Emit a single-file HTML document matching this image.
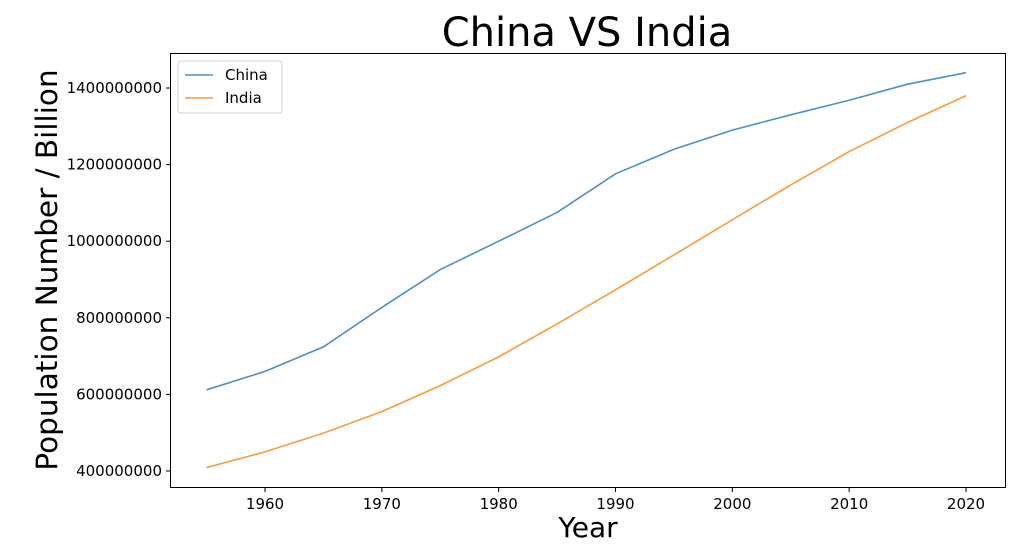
<!DOCTYPE html>
<html><head><meta charset="utf-8"><style>
body{margin:0;background:#fff;}
svg text{font-family:"DejaVu Sans","Liberation Sans",sans-serif;fill:#000;}
</style></head><body>
<svg id="chart" width="1021" height="552" xmlns="http://www.w3.org/2000/svg">
<rect width="1021" height="552" fill="#fff"/>
<text x="587" y="46" font-size="40" text-anchor="middle">China VS India</text>
<text x="588" y="537" font-size="28" text-anchor="middle">Year</text>
<text transform="translate(57,270) rotate(-90)" font-size="29.5" text-anchor="middle">Population Number / Billion</text>
<g id="ticks"></g>
<g id="lines"></g>
<rect x="170.5" y="53.5" width="835" height="434" fill="none" stroke="#000" stroke-width="1"/>
<g>
<rect x="178" y="61" width="104" height="52" rx="3" fill="#fff" stroke="#ccc" opacity="0.9"/>
<line x1="185" y1="75" x2="213" y2="75" stroke="#1f77b4" stroke-opacity="0.8" stroke-width="1.6"/>
<text x="225" y="80" font-size="15">China</text>
<line x1="185" y1="98" x2="213" y2="98" stroke="#ff7f0e" stroke-opacity="0.8" stroke-width="1.6"/>
<text x="225" y="103" font-size="15">India</text>
</g>
</svg>
<script>
const years=[1955,1960,1965,1970,1975,1980,1985,1990,1995,2000,2005,2010,2015,2020];
const china=[612e6,660e6,724e6,827e6,926e6,1000e6,1075e6,1176e6,1240e6,1290e6,1330e6,1368e6,1410e6,1440e6];
const india=[409e6,450e6,499e6,555e6,623e6,698e6,784e6,873e6,964e6,1056e6,1147e6,1234e6,1310e6,1380e6];
const xTicks=[1960,1970,1980,1990,2000,2010,2020];
const yTicks=[400000000,600000000,800000000,1000000000,1200000000,1400000000];
const NS="http://www.w3.org/2000/svg";
function xs(v){return 265+(v-1960)*(966-265)/60;}
function ys(v){return 471-(v-4e8)*(471-88)/1e9;}
const tg=document.getElementById('ticks');
xTicks.forEach(t=>{
 const l=document.createElementNS(NS,'line');
 l.setAttribute('x1',xs(t));l.setAttribute('x2',xs(t));l.setAttribute('y1',487.5);l.setAttribute('y2',492);l.setAttribute('stroke','#000');
 
 
 tg.appendChild(l);
 const tx=document.createElementNS(NS,'text');
 tx.setAttribute('x',xs(t));tx.setAttribute('y',509);tx.setAttribute('font-size','15');tx.setAttribute('text-anchor','middle');tx.textContent=t;
 
 
 tg.appendChild(tx);
});
yTicks.forEach(t=>{
 const l=document.createElementNS(NS,'line');
 l.setAttribute('x1',166);l.setAttribute('x2',170.5);l.setAttribute('y1',ys(t));l.setAttribute('y2',ys(t));l.setAttribute('stroke','#000');
 
 
 tg.appendChild(l);
 const tx=document.createElementNS(NS,'text');
 tx.setAttribute('x',162);tx.setAttribute('y',ys(t)+5);tx.setAttribute('font-size','15');tx.setAttribute('text-anchor','end');tx.textContent=t;
 
 
 tg.appendChild(tx);
});
const lg=document.getElementById('lines');
[[china,'#1f77b4','china-line'],[india,'#ff7f0e','india-line']].forEach(([s,c,n])=>{
 const p=document.createElementNS(NS,'polyline');
 p.setAttribute('points',years.map((y,i)=>xs(y)+','+ys(s[i])).join(' '));
 p.setAttribute('fill','none');p.setAttribute('stroke',c);p.setAttribute('stroke-opacity','0.8');p.setAttribute('stroke-width','1.6');
 
 
 lg.appendChild(p);
});
</script>
</body></html>
